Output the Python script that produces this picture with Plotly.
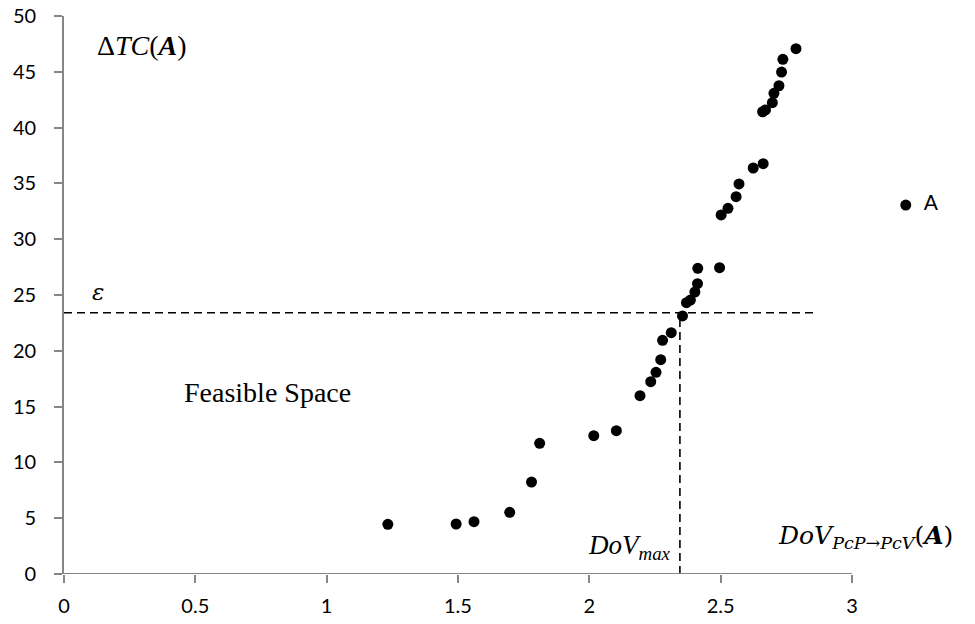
import plotly.graph_objects as go

# Data
dov = [1.233, 1.493, 1.561, 1.697, 1.780, 1.811, 2.017, 2.103, 2.193, 2.234,
       2.254, 2.272, 2.279, 2.312, 2.355, 2.370, 2.385, 2.402, 2.412, 2.413,
       2.496, 2.502, 2.528, 2.559, 2.570, 2.624, 2.662, 2.660, 2.671, 2.697,
       2.703, 2.722, 2.732, 2.737, 2.787]
dtc = [4.45, 4.48, 4.69, 5.53, 8.24, 11.71, 12.39, 12.84, 15.98, 17.23,
       18.07, 19.20, 20.94, 21.62, 23.12, 24.31, 24.55, 25.27, 26.01, 27.39,
       27.45, 32.17, 32.77, 33.81, 34.95, 36.38, 36.77, 41.42, 41.58, 42.23,
       43.07, 43.75, 44.98, 46.12, 47.07]
point_a_x = [3.205]
point_a_y = [33.06]
point_a_label = ["A"]
epsilon = 23.41
dov_max = 2.345
eps_line_end = 2.87

x_axis_max = 3
x_tickvals = [0, 0.5, 1, 1.5, 2, 2.5, 3]
x_ticktext = ["0", "0.5", "1", "1.5", "2", "2.5", "3"]
y_tickvals = [0, 5, 10, 15, 20, 25, 30, 35, 40, 45, 50]

axis_color = "#868686"
serif = "Liberation Serif"
sans = "Lato"

fig = go.Figure()

# dashed threshold lines
fig.add_trace(go.Scatter(x=[0, eps_line_end], y=[epsilon, epsilon], mode="lines",
                         line=dict(color="black", width=1.6, dash="8px,5px"),
                         hoverinfo="skip", showlegend=False))
fig.add_trace(go.Scatter(x=[dov_max, dov_max], y=[0, epsilon], mode="lines",
                         line=dict(color="black", width=1.6, dash="8px,5px"),
                         hoverinfo="skip", showlegend=False))

fig.add_trace(go.Scatter(x=dov, y=dtc, mode="markers",
                         marker=dict(color="black", size=11),
                         showlegend=False, cliponaxis=False))
fig.add_trace(go.Scatter(x=point_a_x, y=point_a_y, mode="markers+text",
                         text=point_a_label, texttemplate="  %{text}",
                         textposition="middle right",
                         textfont=dict(family=sans, size=21, color="black"),
                         marker=dict(color="black", size=11),
                         showlegend=False, cliponaxis=False))

# visible x-axis baseline only from 0 to 3
fig.add_shape(type="line", xref="x", yref="y", x0=0, x1=x_axis_max, y0=0, y1=0,
              line=dict(color=axis_color, width=1.8), layer="above")

fig.update_xaxes(range=[0, 3.4], tickvals=x_tickvals, ticktext=x_ticktext,
                 showgrid=False, zeroline=False, showline=False, automargin=False,
                 ticks="outside", ticklen=8, tickwidth=1.5, tickcolor=axis_color,
                 ticklabelstandoff=6,
                 tickfont=dict(family=sans, size=20, color="black"))
fig.update_yaxes(range=[0, 50], tickvals=y_tickvals,
                 showgrid=False, zeroline=False, showline=True, automargin=False,
                 linecolor=axis_color, linewidth=1.8,
                 ticks="outside", ticklen=8, tickwidth=1.5, tickcolor=axis_color,
                 ticklabelstandoff=14,
                 tickfont=dict(family=sans, size=20, color="black"))

annotations = [
    dict(x=0.118, y=47.4, text="Δ<i>TC</i>(<b><i>A</i></b>)", xanchor="left",
         yanchor="middle", font=dict(family=serif, size=28, color="black")),
    dict(x=0.13, y=25.3, text="<i>ε</i>", xanchor="center", yanchor="middle",
         font=dict(family="DejaVu Serif", size=23, color="black")),
    dict(x=0.449, y=16.3, text="Feasible Space", xanchor="left", yanchor="middle",
         font=dict(family=serif, size=28, color="black")),
    dict(x=2.318, y=2.4, text="<i>DoV</i><sub><i>max</i></sub>", xanchor="right",
         yanchor="middle", font=dict(family=serif, size=27, color="black")),
    dict(x=3.392, y=3.3, text="<i>DoV</i><sub><i>PcP→PcV</i></sub>(<b><i>A</i></b>)",
         xanchor="right", yanchor="middle",
         font=dict(family="DejaVu Serif", size=25, color="black")),
]
for a in annotations:
    a.update(xref="x", yref="y", showarrow=False)

fig.update_layout(width=975, height=624,
                  margin=dict(l=64, r=18, t=16, b=50),
                  paper_bgcolor="white", plot_bgcolor="white",
                  annotations=annotations)

fig.write_html("out.html")
